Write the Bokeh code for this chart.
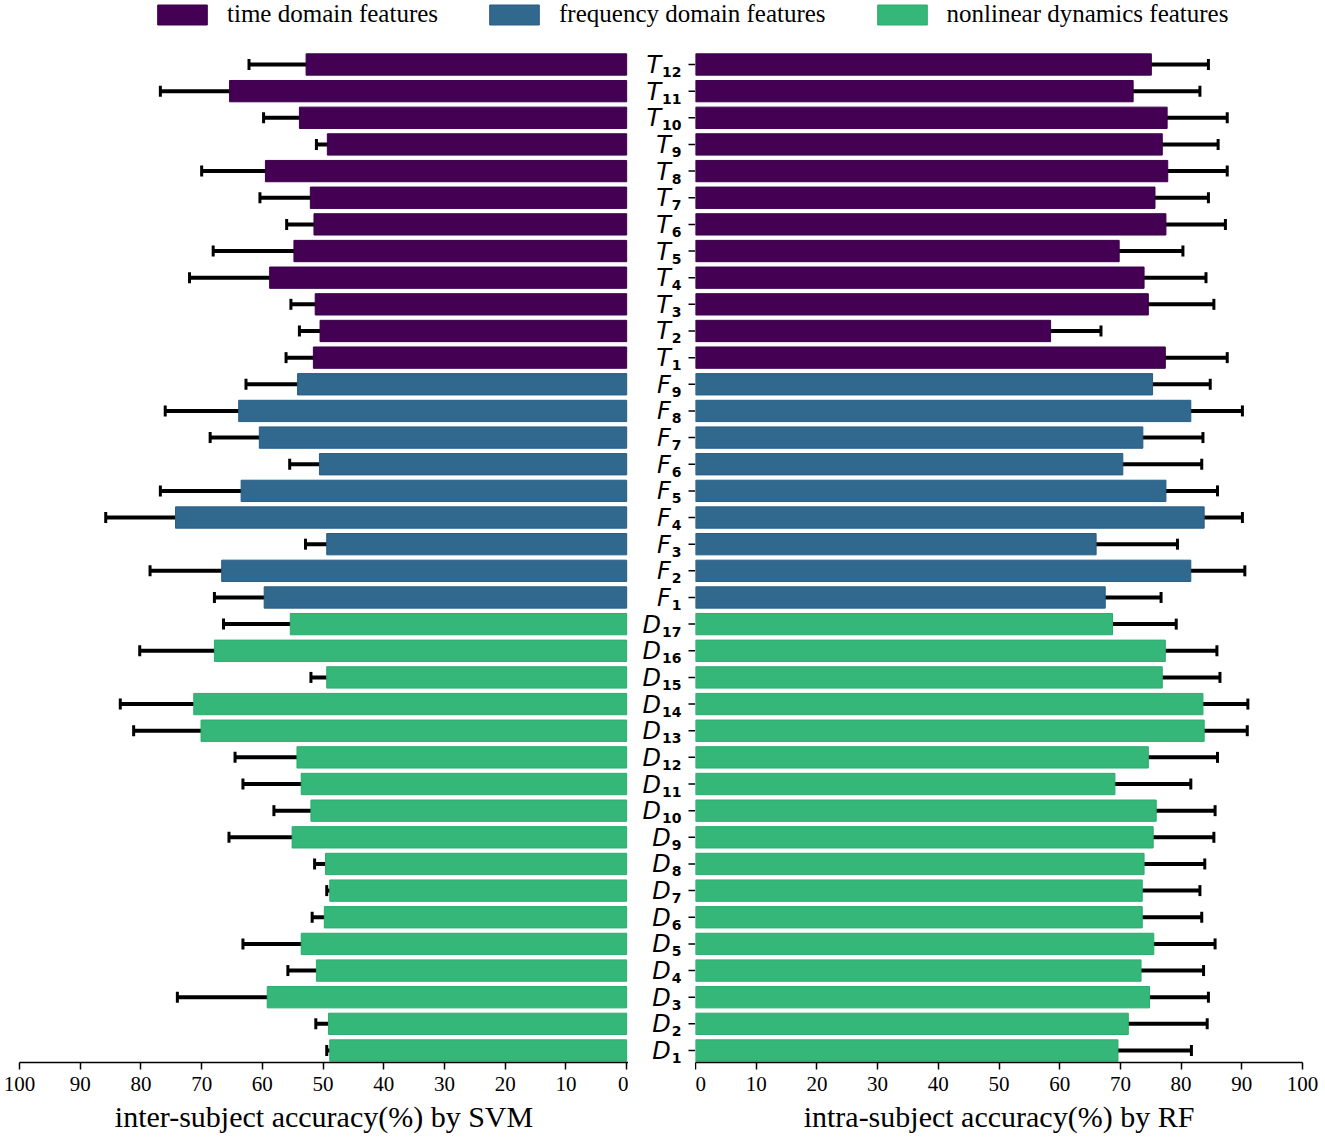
from bokeh.plotting import figure
from bokeh.models import (Range1d, ColumnDataSource, Whisker, TeeHead, Legend,
                          LegendItem, FixedTicker, CDSView, GroupFilter)
from bokeh.layouts import column, row
from bokeh.embed import file_html
from bokeh.resources import INLINE
from bokeh.core.properties import value

# ---------------- data (top to bottom) ----------------
features = ["T12", "T11", "T10", "T9", "T8", "T7", "T6", "T5", "T4", "T3", "T2", "T1",
            "F9", "F8", "F7", "F6", "F5", "F4", "F3", "F2", "F1",
            "D17", "D16", "D15", "D14", "D13", "D12", "D11", "D10", "D9", "D8", "D7",
            "D6", "D5", "D4", "D3", "D2", "D1"]

svm_mean = [52.8, 65.4, 53.9, 49.3, 59.5, 52.1, 51.5, 54.8, 58.8, 51.3, 50.5, 51.6,
            54.2, 63.9, 60.5, 50.6, 63.5, 74.3, 49.4, 66.7, 59.7,
            55.4, 67.9, 49.4, 71.3, 70.1, 54.3, 53.6, 52.0, 55.1, 49.6, 48.9,
            49.8, 53.6, 51.1, 59.2, 49.1, 48.9]
svm_err = [9.4, 11.4, 5.9, 1.8, 10.5, 8.3, 4.5, 13.3, 13.2, 4.0, 3.4, 4.5,
           8.5, 12.1, 8.1, 4.9, 13.3, 11.5, 3.5, 11.8, 8.2,
           11.0, 12.3, 2.6, 12.1, 11.1, 10.2, 9.6, 6.1, 10.4, 1.8, 0.5,
           2.0, 9.6, 4.7, 14.8, 2.1, 0.5]

rf_mean = [75.1, 72.1, 77.7, 76.9, 77.8, 75.7, 77.5, 69.8, 73.9, 74.6, 58.5, 77.4,
           75.3, 81.6, 73.7, 70.4, 77.5, 83.8, 66.0, 81.6, 67.5,
           68.7, 77.4, 76.9, 83.6, 83.8, 74.6, 69.1, 75.9, 75.4, 73.9, 73.6,
           73.6, 75.5, 73.4, 74.8, 71.3, 69.6]
rf_err = [9.4, 11.0, 9.9, 9.2, 9.8, 8.8, 9.8, 10.5, 10.2, 10.8, 8.3, 10.2,
          9.5, 8.5, 9.9, 13.0, 8.5, 6.3, 13.4, 8.9, 9.2,
          10.5, 8.5, 9.5, 7.4, 7.1, 11.4, 12.5, 9.7, 10.0, 10.0, 9.5,
          9.8, 10.1, 10.3, 9.7, 13.0, 12.1]

group_order = ["T", "F", "D"]
group_names = {"T": "time domain features", "F": "frequency domain features",
               "D": "nonlinear dynamics features"}
group_fill = {"T": "#440154", "F": "#31688e", "D": "#35b779"}
group_edge = {"T": "#3a0049", "F": "#285d85", "D": "#2cab6b"}
x_ticks = [0, 10, 20, 30, 40, 50, 60, 70, 80, 90, 100]

# ---------------- layout constants ----------------
n = len(features)
Y0, Y1 = -0.45, n - 1 + 0.6
FRAME_H = 1014
PPU = FRAME_H / (Y1 - Y0)            # px per row
LEFT_FW = 609
MID_W = 67
RIGHT_FW = 607
TOP = 8
LEG_H = 40
EXTRA = 20                           # label column reaches a bit below the frames
SERIF = "Liberation Serif"

# ---------------- derived ----------------
ypos = [n - 1 - i for i in range(n)]
grp = [f[0] for f in features]
sub = [f[1:] for f in features]

LABEL_RIGHT = 53      # px inside the label column
SUB_W = 9.7           # px per subscript digit
src = ColumnDataSource(dict(
    y=ypos,
    group=grp,
    svm=svm_mean,
    svm_lo=[m - e for m, e in zip(svm_mean, svm_err)],
    svm_hi=[m + e for m, e in zip(svm_mean, svm_err)],
    rf=rf_mean,
    rf_lo=[m - e for m, e in zip(rf_mean, rf_err)],
    rf_hi=[m + e for m, e in zip(rf_mean, rf_err)],
    fill=[group_fill[g] for g in grp],
    edge=[group_edge[g] for g in grp],
    letter=grp,
    sub=sub,
    y_letter=[y - 0.5 / PPU for y in ypos],
    y_sub=[y - 7.5 / PPU for y in ypos],
    x_letter=[LABEL_RIGHT - SUB_W * len(s) - 1 for s in sub],
    x_sub=[LABEL_RIGHT] * n,
    tick_x0=[MID_W - 7] * n,
    tick_x1=[MID_W] * n,
))

yr = Range1d(Y0, Y1)


def style_xaxis(p, label):
    ax = p.xaxis[0]
    ax.ticker = FixedTicker(ticks=x_ticks)
    ax.axis_label = label
    ax.axis_label_text_font = SERIF
    ax.axis_label_text_font_size = "30px"
    ax.axis_label_text_font_style = "normal"
    ax.axis_label_text_color = "black"
    ax.axis_label_standoff = 6
    ax.major_label_text_font = SERIF
    ax.major_label_text_font_size = "21px"
    ax.major_label_text_color = "black"
    ax.major_label_standoff = 7
    ax.axis_line_width = 1.5
    ax.axis_line_color = "black"
    ax.major_tick_line_width = 1.5
    ax.major_tick_line_color = "black"
    ax.major_tick_out = 7
    ax.major_tick_in = 0
    ax.minor_tick_line_color = None


def base_fig(frame_w, xr, frame_h=FRAME_H, y_range=yr, **kw):
    p = figure(frame_width=frame_w, frame_height=frame_h, x_range=xr, y_range=y_range,
               output_backend="svg", toolbar_location=None,
               min_border_top=TOP, min_border_bottom=0,
               y_axis_location=None, **kw)
    p.xgrid.visible = False
    p.ygrid.visible = False
    p.outline_line_color = None
    p.background_fill_color = None
    p.border_fill_color = None
    return p


def add_errors(p, lo, hi):
    w = Whisker(source=src, base="y", lower=lo, upper=hi, dimension="width",
                line_width=4, line_color="black",
                upper_head=TeeHead(size=11, line_width=3, line_color="black"),
                lower_head=TeeHead(size=11, line_width=3, line_color="black"))
    p.add_layout(w)


# ---------------- left panel ----------------
left = base_fig(LEFT_FW, Range1d(100, -0.3), min_border_left=19, min_border_right=0)
left.hbar(y="y", left=0, right="svm", height=0.8, fill_color="fill",
          line_color="edge", line_width=1, source=src)
add_errors(left, "svm_lo", "svm_hi")
style_xaxis(left, "inter-subject accuracy(%) by SVM")

# ---------------- middle: feature labels and tick marks ----------------
mid = base_fig(MID_W, Range1d(0, MID_W), frame_h=FRAME_H + EXTRA,
               y_range=Range1d(Y0 - EXTRA / PPU, Y1),
               min_border_left=0, min_border_right=0, x_axis_location=None)
mid.segment(x0="tick_x0", x1="tick_x1", y0="y", y1="y", source=src,
            line_color="black", line_width=1.5)
mid.text(x="x_letter", y="y_letter", text="letter", source=src,
         text_font=value("DejaVu Sans"), text_font_style="italic",
         text_font_size="24px", text_align="right", text_baseline="middle",
         text_color="black")
mid.text(x="x_sub", y="y_sub", text="sub", source=src,
         text_font=value("DejaVu Sans"), text_font_style="bold",
         text_font_size="14px", text_align="right", text_baseline="middle",
         text_color="black")

# ---------------- right panel ----------------
right = base_fig(RIGHT_FW, Range1d(0, 100), min_border_left=0, min_border_right=23)
right.hbar(y="y", left=0, right="rf", height=0.8, fill_color="fill",
           line_color="edge", line_width=1, source=src)
add_errors(right, "rf_lo", "rf_hi")
style_xaxis(right, "intra-subject accuracy(%) by RF")

# ---------------- legend ----------------
leg = figure(width=LEFT_FW + 19 + MID_W + RIGHT_FW + 23, height=LEG_H,
             x_range=Range1d(1000, 1001), y_range=Range1d(1000, 1001),
             output_backend="svg", toolbar_location=None,
             x_axis_location=None, y_axis_location=None, min_border=0)
leg.xgrid.visible = False
leg.ygrid.visible = False
leg.outline_line_color = None
items = []
for g in group_order:
    r = leg.hbar(y="y", left=0, right="svm", height=0.8, source=src,
                 view=CDSView(filter=GroupFilter(column_name="group", group=g)),
                 fill_color=group_fill[g], line_color=group_edge[g])
    items.append(LegendItem(label=group_names[g], renderers=[r]))
legend = Legend(items=items, orientation="horizontal", location=(151, 12),
                glyph_width=62, glyph_height=25, label_standoff=14, spacing=45,
                padding=0, margin=0, border_line_color=None,
                background_fill_alpha=0, label_text_font=SERIF,
                label_text_font_size="25px", label_text_color="black")
leg.add_layout(legend)

layout = column(leg, row(left, mid, right, spacing=0), spacing=0)

open("out.html", "w").write(file_html(layout, INLINE))
